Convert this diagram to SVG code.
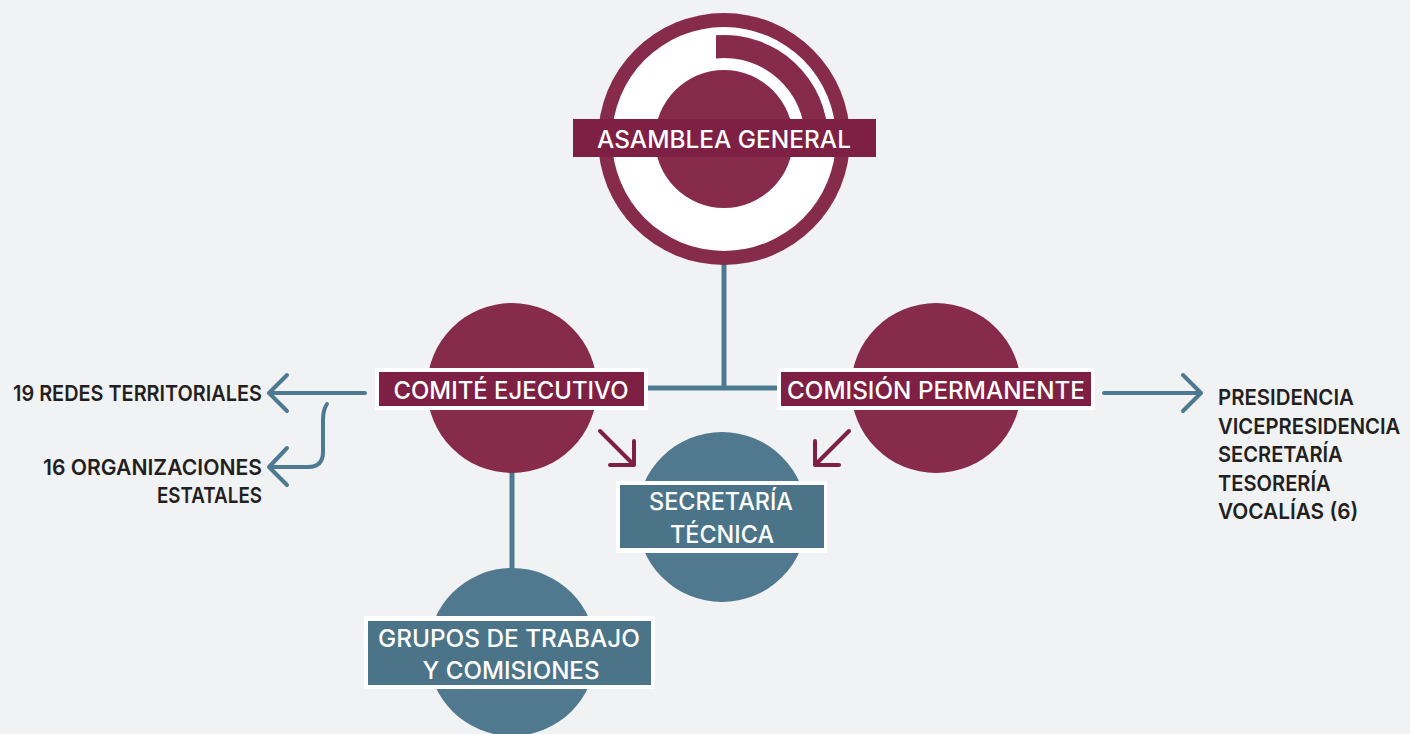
<svg xmlns="http://www.w3.org/2000/svg" width="1410" height="734" viewBox="0 0 1410 734">
<style>
.bg{fill:#f1f2f4}
.mar{fill:#862c4a}
.ban{fill:#7e1f44}
.blu{fill:#50798f}
.bbox{fill:#4b7489}
.wb{fill:#ffffff}
.lbl{font-family:Inter,"Open Sans","Liberation Sans",sans-serif;font-weight:500;font-size:24px;fill:#ffffff;text-anchor:middle}
.dk{font-family:Inter,"Open Sans","Liberation Sans",sans-serif;font-weight:600;font-size:22px;fill:#231f20}
.cb{stroke:#4e7a91;stroke-width:5;fill:none}
.ab{stroke:#4e7a91;stroke-width:4;fill:none;stroke-linecap:round;stroke-linejoin:round}
.am{stroke:#7e1f44;stroke-width:4;fill:none;stroke-linecap:round;stroke-linejoin:round}
</style>
<rect class="bg" x="0" y="0" width="1410" height="734"/>
<g id="connectors">
<line class="cb" x1="724" y1="262" x2="724" y2="390"/>
<line class="cb" x1="645" y1="388" x2="780" y2="388"/>
<line class="cb" x1="512" y1="470" x2="512" y2="572"/>
<line class="ab" x1="365" y1="393" x2="270" y2="393"/>
<polyline class="ab" points="287,375 269,393 287,411"/>
<path class="ab" d="M327,404 Q323,410 323,420 L323,452 Q323,467 308,467 L270,467"/>
<polyline class="ab" points="287,448 269,467 287,485"/>
<line class="ab" x1="1104" y1="393" x2="1200" y2="393"/>
<polyline class="ab" points="1183,375 1201,393 1183,411"/>
<line class="am" x1="600" y1="431" x2="632" y2="463"/>
<polyline class="am" points="634,441 634,465 610,465"/>
<line class="am" x1="849" y1="431" x2="817" y2="463"/>
<polyline class="am" points="815,441 815,465 839,465"/>
</g>
<g id="asamblea-general">
<circle class="mar" cx="724" cy="139" r="126"/>
<circle class="wb" cx="724" cy="139" r="112"/>
<path class="mar" d="M716,35.3 A104,104 0 0 1 828,139 L805,139 A81,81 0 0 0 716,58.4 Z"/>
<circle class="mar" cx="724" cy="139" r="69"/>
<rect class="ban" x="573" y="119" width="303" height="38"/>
<text class="lbl" x="724" y="148" textLength="254" lengthAdjust="spacingAndGlyphs">ASAMBLEA GENERAL</text>
</g>
<g id="comite-ejecutivo">
<circle class="mar" cx="512" cy="388" r="85"/>
<rect class="wb" x="375" y="368" width="273" height="42"/>
<rect class="ban" x="379" y="372" width="265" height="34"/>
<text class="lbl" x="511" y="399" textLength="235" lengthAdjust="spacingAndGlyphs">COMITÉ EJECUTIVO</text>
</g>
<g id="comision-permanente">
<circle class="mar" cx="936" cy="388" r="85"/>
<rect class="wb" x="777" y="368" width="318" height="42"/>
<rect class="ban" x="781" y="372" width="310" height="34"/>
<text class="lbl" x="936" y="399" textLength="298" lengthAdjust="spacingAndGlyphs">COMISIÓN PERMANENTE</text>
</g>
<g id="secretaria-tecnica">
<circle class="blu" cx="722" cy="517" r="85"/>
<rect class="wb" x="616" y="481" width="211" height="72"/>
<rect class="bbox" x="620" y="485" width="204" height="63"/>
<text class="lbl" x="721" y="510" textLength="144" lengthAdjust="spacingAndGlyphs">SECRETARÍA</text>
<text class="lbl" x="722" y="543" textLength="104" lengthAdjust="spacingAndGlyphs">TÉCNICA</text>
</g>
<g id="grupos-trabajo">
<circle class="blu" cx="512" cy="652" r="84"/>
<rect class="wb" x="364" y="616" width="291" height="73"/>
<rect class="bbox" x="368" y="621" width="283" height="64"/>
<text class="lbl" x="509" y="647" textLength="262" lengthAdjust="spacingAndGlyphs">GRUPOS DE TRABAJO</text>
<text class="lbl" x="511" y="679" textLength="177" lengthAdjust="spacingAndGlyphs">Y COMISIONES</text>
</g>
<g id="redes-territoriales">
<text class="dk" x="262" y="401" text-anchor="end" textLength="249" lengthAdjust="spacingAndGlyphs">19 REDES TERRITORIALES</text>
</g>
<g id="organizaciones-estatales">
<text class="dk" x="262" y="475" text-anchor="end" textLength="219" lengthAdjust="spacingAndGlyphs">16 ORGANIZACIONES</text>
<text class="dk" x="262" y="503" text-anchor="end" textLength="105" lengthAdjust="spacingAndGlyphs">ESTATALES</text>
</g>
<g id="cargos" transform="translate(1218 0) scale(0.86 1)">
<text class="dk" x="0" y="405" textLength="158" lengthAdjust="spacingAndGlyphs">PRESIDENCIA</text>
<text class="dk" x="0" y="434" textLength="212" lengthAdjust="spacingAndGlyphs">VICEPRESIDENCIA</text>
<text class="dk" x="0" y="462" textLength="145" lengthAdjust="spacingAndGlyphs">SECRETARÍA</text>
<text class="dk" x="0" y="491" textLength="131" lengthAdjust="spacingAndGlyphs">TESORERÍA</text>
<text class="dk" x="0" y="519" textLength="163" lengthAdjust="spacingAndGlyphs">VOCALÍAS (6)</text>
</g>
</svg>
